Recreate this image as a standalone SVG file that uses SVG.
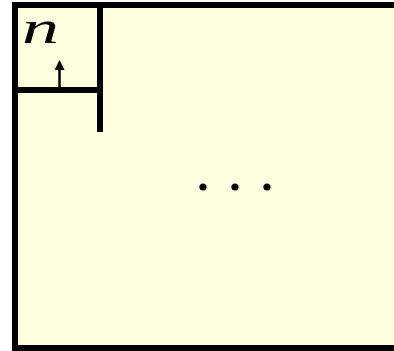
<svg xmlns="http://www.w3.org/2000/svg" width="394" height="351" viewBox="0 0 394 351">
<style>
.ln{stroke:#000;stroke-width:6;fill:none}
.box{stroke:#000;stroke-width:6;fill:#ffffe0}
.dot{fill:#000}
</style>
<defs>
<marker id="ah" viewBox="0 0 10 10" refX="5" refY="5" markerWidth="10" markerHeight="10" markerUnits="userSpaceOnUse" orient="auto">
<path d="M0,0 L10,5 L0,10 z" fill="#000"/>
</marker>
</defs>
<rect x="0" y="0" width="394" height="351" fill="#fff"/>
<g id="outer">
<rect x="15" y="5" width="400" height="343" class="box"/>
</g>
<g id="cell">
<path class="ln" d="M100,5 V132 M15,90 H100"/>
<text x="22" y="43" font-family="Liberation Serif, serif" font-style="italic" font-size="46" textLength="37" lengthAdjust="spacingAndGlyphs">n</text>
</g>
<g id="connectors">
<line x1="59.5" y1="87" x2="59.5" y2="65" stroke="#000" stroke-width="2.5" marker-end="url(#ah)"/>
</g>
<g id="dots">
<circle class="dot" cx="203" cy="187" r="3.6"/>
<circle class="dot" cx="235" cy="187" r="3.6"/>
<circle class="dot" cx="267" cy="187" r="3.6"/>
</g>
</svg>
